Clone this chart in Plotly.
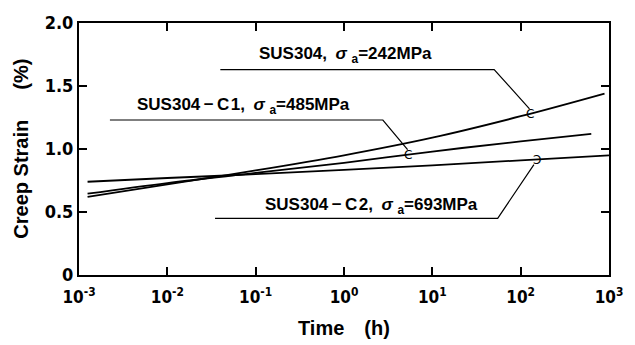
import numpy as np
import plotly.graph_objects as go

# Creep strain (%) versus time (h) for three specimens
time_sus304 = [1.25e-3, 1e-2, 1e-1, 1, 10, 100, 890]
strain_sus304 = [0.62, 0.72, 0.83, 0.95, 1.09, 1.26, 1.44]

time_c1 = [1.25e-3, 1e-2, 1e-1, 1, 10, 100, 630]
strain_c1 = [0.645, 0.73, 0.81, 0.89, 0.98, 1.06, 1.12]

time_c2 = [1.25e-3, 1e-2, 1e-1, 1, 10, 100, 1000]
strain_c2 = [0.74, 0.77, 0.80, 0.835, 0.87, 0.91, 0.95]

series_labels = [
    "SUS304,\u2002<i>σ</i> <sub>a</sub>=242MPa",
    "SUS304\u2009−\u2009C\u200a1,\u2002<i>σ</i> <sub>a</sub>=485MPa",
    "SUS304\u2009−\u2009C\u200a2,\u2002<i>σ</i> <sub>a</sub>=693MPa",
]

x_tickvals = [1e-3, 1e-2, 1e-1, 1, 10, 100, 1000]
x_ticktext = ["10<sup>-3</sup>", "10<sup>-2</sup>", "10<sup>-1</sup>", "10<sup>0</sup>",
              "10<sup>1</sup>", "10<sup>2</sup>", "10<sup>3</sup>"]
y_tickvals = [0, 0.5, 1.0, 1.5, 2.0]
y_ticktext = ["0", "0.5", "1.0", "1.5", "2.0"]

BOLD = "Liberation Sans, Arial, sans-serif"
NARROW = "Liberation Sans Narrow, DejaVu Sans Condensed, Arial Narrow, sans-serif"

fig = go.Figure()

series = [
    (time_sus304, strain_sus304),
    (time_c1, strain_c1),
    (time_c2, strain_c2),
]
for (t, s), name in zip(series, series_labels):
    fig.add_trace(go.Scatter(x=t, y=s, mode="lines", name=name,
                             line=dict(color="black", width=1.8, shape="spline"),
                             hoverinfo="skip"))

# Label callouts: underline (log10 start, log10 end, strain), text position,
# leader attachment time on the curve, and end offset of the leader.
callouts = [
    dict(u0=-1.40, u1=1.70, uy=1.63, tx=0.02, ty=1.745, tm=2.1, dy=0.04, mark="C", mdx=0.0),
    dict(u0=-2.65, u1=0.44, uy=1.23, tx=-1.14, ty=1.345, tm=0.72, dy=0.04, mark="C", mdx=0.0),
    dict(u0=-1.46, u1=1.74, uy=0.45, tx=0.31, ty=0.545, tm=2.15, dy=-0.04, mark="Ↄ", mdx=0.03),
]

for (t, s), name, c in zip(series, series_labels, callouts):
    y_mark = float(np.interp(c["tm"], np.log10(t), s))
    fig.add_trace(go.Scatter(
        x=[10 ** c["u0"], 10 ** c["u1"], 10 ** c["tm"]],
        y=[c["uy"], c["uy"], y_mark + c["dy"]],
        mode="lines", line=dict(color="black", width=1.2),
        hoverinfo="skip", showlegend=False))
    fig.add_annotation(x=c["tx"], y=c["ty"], xref="x", yref="y", text=name,
                       showarrow=False, xanchor="center", yanchor="middle",
                       font=dict(family=BOLD, size=17, color="black", weight="bold"))
    fig.add_annotation(x=c["tm"] + c["mdx"], y=y_mark, xref="x", yref="y", text=c["mark"],
                       showarrow=False, xanchor="center", yanchor="middle",
                       font=dict(family="DejaVu Sans", size=12, color="black"))

# Axis titles
fig.add_annotation(x=0.5, y=-0.16, xref="paper", yref="paper", xanchor="center",
                   yanchor="top", text="Time\u2003(h)", showarrow=False,
                   font=dict(family=BOLD, size=20, color="black", weight="bold"))
fig.add_annotation(x=-0.11, y=0.5, xref="paper", yref="paper", xanchor="center",
                   yanchor="middle", textangle=-90,
                   text="Creep Strain\u2003\u2002(%)", showarrow=False,
                   font=dict(family=BOLD, size=20, color="black", weight="bold"))

axis_common = dict(showline=True, linecolor="black", linewidth=2, mirror="ticks",
                   ticks="inside", ticklen=8, tickwidth=1.5, tickcolor="black",
                   showgrid=False, zeroline=False)

fig.update_xaxes(type="log", range=[-3, 3], tickvals=x_tickvals, ticktext=x_ticktext,
                 ticklabelstandoff=6,
                 tickfont=dict(family=NARROW, size=17, color="black", weight="bold"),
                 **axis_common)
fig.update_yaxes(range=[0, 2], tickvals=y_tickvals, ticktext=y_ticktext,
                 tickfont=dict(family=NARROW, size=18, color="black", weight="bold"),
                 **axis_common)

fig.update_layout(width=635, height=345, margin=dict(l=79, r=19, t=15, b=70),
                  plot_bgcolor="white", paper_bgcolor="white", showlegend=False)

fig.write_html("out.html")
